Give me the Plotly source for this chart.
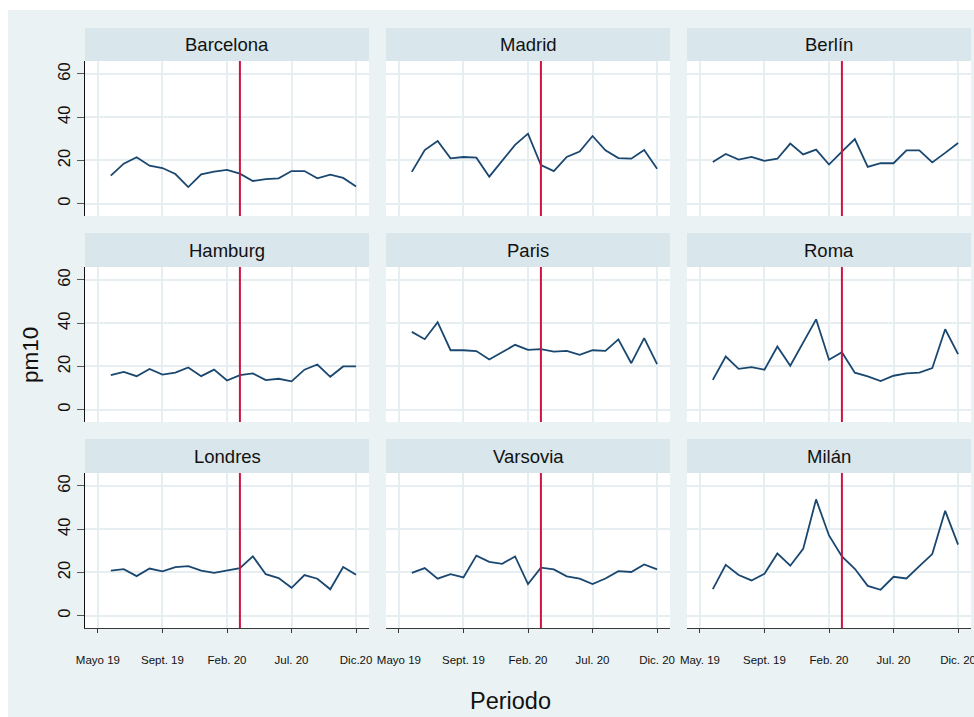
import plotly.graph_objects as go

# Monthly PM10 averages per city (periods 1..20)
periods = list(range(1, 21))
cities = ["Barcelona", "Madrid", "Berlín", "Hamburg", "Paris", "Roma",
          "Londres", "Varsovia", "Milán"]

barcelona = [13.0, 18.5, 21.5, 17.6, 16.5, 13.7, 7.7, 13.6, 14.8, 15.6,
             13.9, 10.5, 11.4, 11.7, 15.1, 15.1, 11.7, 13.4, 11.9, 8.0]
madrid = [14.7, 24.8, 29.0, 21.0, 21.6, 21.3, 12.5, 19.8, 27.2, 32.4,
          17.9, 15.1, 21.6, 24.1, 31.3, 24.7, 21.1, 20.8, 24.8, 16.2]
berlin = [19.3, 23.0, 20.4, 21.6, 19.8, 20.8, 27.8, 22.8, 25.0, 18.1,
          24.1, 29.9, 17.0, 18.8, 18.7, 24.7, 24.7, 19.1, 23.5, 28.1]
hamburg = [16.0, 17.5, 15.5, 18.8, 16.2, 17.1, 19.5, 15.5, 18.5, 13.5,
           16.0, 16.8, 13.7, 14.3, 13.1, 18.5, 20.9, 15.2, 20.0, 20.0]
paris = [36.0, 32.6, 40.5, 27.5, 27.5, 27.1, 23.2, 26.6, 30.0, 27.7,
         28.0, 26.9, 27.2, 25.4, 27.5, 27.2, 32.5, 21.5, 33.1, 21.1]
roma = [13.8, 24.6, 18.9, 19.7, 18.5, 29.2, 20.3, 31.2, 41.8, 23.1,
        26.6, 17.1, 15.4, 13.2, 15.7, 16.8, 17.1, 19.2, 37.2, 25.7]
londres = [20.8, 21.5, 18.3, 21.8, 20.5, 22.5, 22.9, 20.8, 19.8, 20.9,
           22.0, 27.5, 19.2, 17.4, 12.9, 18.8, 17.1, 12.2, 22.5, 18.9]
varsovia = [19.8, 22.0, 17.1, 19.2, 17.7, 27.8, 24.9, 24.0, 27.4, 14.6,
            22.2, 21.4, 18.2, 17.1, 14.6, 17.2, 20.6, 20.2, 23.7, 21.4]
milan = [12.3, 23.5, 18.8, 16.3, 19.4, 28.8, 23.1, 30.9, 53.8, 37.1,
         27.4, 21.7, 13.8, 12.0, 18.0, 17.2, 22.9, 28.5, 48.5, 32.9]
series = [barcelona, madrid, berlin, hamburg, paris, roma, londres, varsovia, milan]

# Reference period marked by the vertical line
event_period = 11

x_tickvals = [0, 5, 10, 15, 20]
x_ticktext = [
    ["Mayo 19", "Sept. 19", "Feb. 20", "Jul. 20", "Dic.20"],
    ["Mayo 19", "Sept. 19", "Feb. 20", "Jul. 20", "Dic. 20"],
    ["May. 19", "Sept. 19", "Feb. 20", "Jul. 20", "Dic. 20"],
]
y_tickvals = [0, 20, 40, 60]

W, H = 974, 717
BG = "#eaf2f3"
STRIP = "#d9e6eb"
GRID = "#e6eef1"
LINE = "#1a476f"
RED = "#cc1442"
FONT = "Liberation Sans, Arial, sans-serif"

col_px = [(85, 369), (386, 670), (687, 971)]
row_px = [(61, 216), (267, 422), (473, 628)]
strip_px = [(28, 61), (233, 267), (439, 473)]


def px_x(v):
    return v / W


def px_y(v):
    return 1 - v / H


fig = go.Figure()
layout = dict(
    width=W, height=H,
    margin=dict(l=0, r=0, t=0, b=0),
    paper_bgcolor=BG, plot_bgcolor="white",
    showlegend=False,
    font=dict(family=FONT, color="#111"),
)
shapes = []
annotations = []

# white outer border on top and left
shapes.append(dict(type="rect", xref="paper", yref="paper", x0=0, x1=1,
                   y0=px_y(10), y1=1, fillcolor="white", line_width=0, layer="below"))
shapes.append(dict(type="rect", xref="paper", yref="paper", x0=0, x1=px_x(8),
                   y0=0, y1=1, fillcolor="white", line_width=0, layer="below"))

for i, (city, vals) in enumerate(zip(cities, series)):
    r, c = divmod(i, 3)
    n = "" if i == 0 else str(i + 1)
    xa, ya = "x" + n, "y" + n
    fig.add_trace(go.Scatter(x=periods, y=vals, mode="lines", xaxis=xa, yaxis=ya,
                             line=dict(color=LINE, width=1.8), hoverinfo="skip"))

    x0, x1 = col_px[c]
    y0, y1 = row_px[r]
    bottom = r == 2
    left = c == 0
    layout["xaxis" + n] = dict(
        domain=[px_x(x0), px_x(x1)], anchor=ya, range=[-1, 21],
        tickvals=x_tickvals, ticktext=x_ticktext[c], automargin=False,
        showgrid=True, gridcolor=GRID, gridwidth=1.5, zeroline=False,
        showline=bottom, linecolor="#3a3a3a", linewidth=1.3,
        ticks="outside" if bottom else "", ticklen=4, tickcolor="#3a3a3a",
        showticklabels=bottom, tickfont=dict(size=11.5, color="#111"),
        ticklabelstandoff=17, ticklabeloverflow="allow",
    )
    layout["yaxis" + n] = dict(
        domain=[px_y(y1), px_y(y0)], anchor=xa, range=[-5.7, 66],
        tickvals=y_tickvals, automargin=False,
        showgrid=True, gridcolor=GRID, gridwidth=1.5, zeroline=False,
        showline=left, linecolor="#111", linewidth=1.3,
        ticks="outside" if left else "", ticklen=7, tickcolor="#555",
        showticklabels=left, tickangle=-90, tickfont=dict(size=16.5, color="#111"),
    )

    # vertical reference line
    shapes.append(dict(type="line", xref=xa, yref=ya + " domain",
                       x0=event_period, x1=event_period, y0=0, y1=1,
                       line=dict(color=RED, width=2)))

    # facet header strip
    s0, s1 = strip_px[r]
    shapes.append(dict(type="rect", xref="paper", yref="paper",
                       x0=px_x(x0), x1=px_x(x1), y0=px_y(s1), y1=px_y(s0),
                       fillcolor=STRIP, line_width=0))
    annotations.append(dict(text=city, xref="paper", yref="paper",
                            x=px_x((x0 + x1) / 2), y=px_y((s0 + s1) / 2),
                            xanchor="center", yanchor="middle", showarrow=False,
                            font=dict(size=18.5, color="#111")))

annotations.append(dict(text="pm10", xref="paper", yref="paper",
                        x=px_x(30), y=px_y(355), textangle=-90,
                        xanchor="center", yanchor="middle", showarrow=False,
                        font=dict(size=22.5, color="#111")))
annotations.append(dict(text="Periodo", xref="paper", yref="paper",
                        x=px_x(510), y=px_y(701),
                        xanchor="center", yanchor="middle", showarrow=False,
                        font=dict(size=23.5, color="#111")))

layout["shapes"] = shapes
layout["annotations"] = annotations
fig.update_layout(**layout)
fig.write_html("out.html")
